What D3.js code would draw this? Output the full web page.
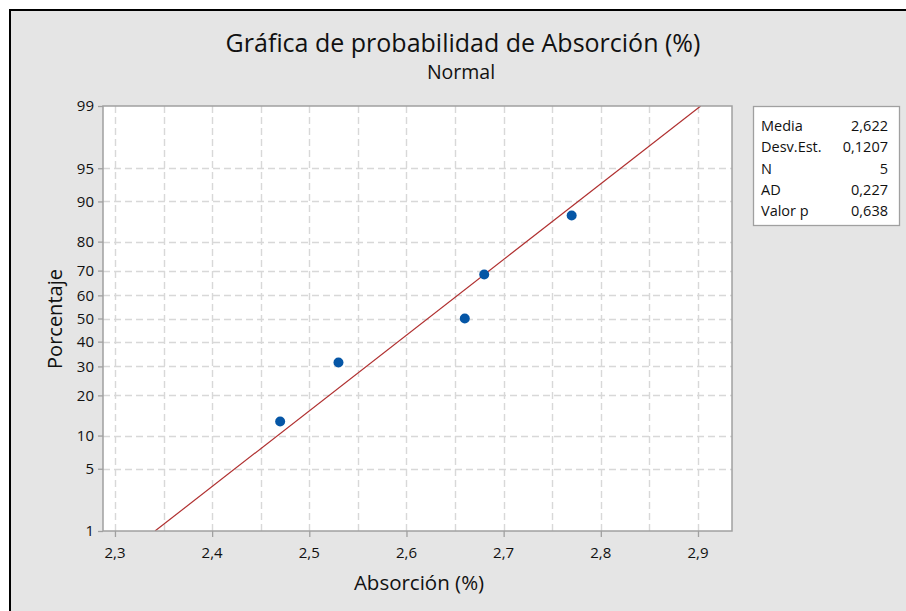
<!DOCTYPE html>
<html><head><meta charset="utf-8">
<script src="https://cdn.jsdelivr.net/npm/d3@7"></script>
<style>body{margin:0;background:#fff}svg{display:block}</style>
</head><body>
<svg id="c" width="906" height="611"></svg>
<script>
const absorcion = [2.47, 2.53, 2.66, 2.68, 2.77];
const porcentajes = [12.96, 31.48, 50, 68.52, 87.04];
const fitMean = 2.622, fitSd = 0.1207;
const xTicks = [2.3, 2.4, 2.5, 2.6, 2.7, 2.8, 2.9];
const xGrid = [2.3, 2.35, 2.4, 2.45, 2.5, 2.55, 2.6, 2.65, 2.7, 2.75, 2.8, 2.85, 2.9];
const yTicks = [1, 5, 10, 20, 30, 40, 50, 60, 70, 80, 90, 95, 99];
const statLabels = ["Media", "Desv.Est.", "N", "AD", "Valor p"];
const statValues = ["2,622", "0,1207", "5", "0,227", "0,638"];

const svg = d3.select("#c");
const F = "'Open Sans', 'Noto Sans', sans-serif";
svg.append("rect").attr("x", 10).attr("y", 10).attr("width", 906).attr("height", 611).attr("fill", "#e5e5e5").attr("stroke", "#000").attr("stroke-width", 2);

const L = 103, R = 732, T = 106, B = 531;
// inverse normal CDF (Acklam)
function probit(p){
  const a=[-39.69683028665376,220.9460984245205,-275.9285104469687,138.3577518672690,-30.66479806614716,2.506628277459239];
  const b=[-54.47609879822406,161.5858368580409,-155.6989798598866,66.80131188771972,-13.28068155288572];
  const c=[-0.007784894002430293,-0.3223964580411365,-2.400758277161838,-2.549732539343734,4.374664141464968,2.938163982698783];
  const d=[0.007784695709041462,0.3224671290700398,2.445134137142996,3.754408661907416];
  const pl=0.02425;
  let q,r;
  if(p<pl){q=Math.sqrt(-2*Math.log(p));return (((((c[0]*q+c[1])*q+c[2])*q+c[3])*q+c[4])*q+c[5])/((((d[0]*q+d[1])*q+d[2])*q+d[3])*q+1);}
  if(p>1-pl){q=Math.sqrt(-2*Math.log(1-p));return -(((((c[0]*q+c[1])*q+c[2])*q+c[3])*q+c[4])*q+c[5])/((((d[0]*q+d[1])*q+d[2])*q+d[3])*q+1);}
  q=p-0.5;r=q*q;
  return (((((a[0]*r+a[1])*r+a[2])*r+a[3])*r+a[4])*r+a[5])*q/(((((b[0]*r+b[1])*r+b[2])*r+b[3])*r+b[4])*r+1);
}
const x = d3.scaleLinear().domain([2.2877, 2.935]).range([L, R]);
const zs = d3.scaleLinear().domain([probit(0.01), probit(0.99)]).range([B, T]);
const y = pct => zs(probit(pct / 100));

svg.append("rect").attr("x", L).attr("y", T).attr("width", R - L).attr("height", B - T).attr("fill", "#fff");

const grid = svg.append("g").attr("stroke", "#d8d8d8").attr("stroke-width", 1.4).attr("stroke-dasharray", "7,4");
grid.selectAll("line.v").data(xGrid).join("line").attr("class","v")
  .attr("x1", d => Math.round(x(d)) + 0.5).attr("x2", d => Math.round(x(d)) + 0.5).attr("y1", T).attr("y2", B);
grid.selectAll("line.h").data(yTicks.filter(d => d > 1 && d < 99)).join("line").attr("class","h")
  .attr("y1", d => Math.round(y(d)) + 0.5).attr("y2", d => Math.round(y(d)) + 0.5).attr("x1", L).attr("x2", R);

// fit line
const fitP = [1, 99];
svg.append("clipPath").attr("id","cp").append("rect").attr("x", L).attr("y", T).attr("width", R-L).attr("height", B-T);
svg.append("line").attr("clip-path","url(#cp)")
  .attr("x1", x(fitMean + probit(0.01) * fitSd)).attr("y1", y(fitP[0]))
  .attr("x2", x(fitMean + probit(0.99) * fitSd)).attr("y2", y(fitP[1]))
  .attr("stroke", "#b03030").attr("stroke-width", 1.2);

svg.append("g").selectAll("circle").data(absorcion).join("circle")
  .attr("cx", d => x(d)).attr("cy", (d, i) => y(porcentajes[i])).attr("r", 5).attr("fill", "#0556a6");

svg.append("rect").attr("x", L).attr("y", T).attr("width", R - L).attr("height", B - T).attr("fill", "none").attr("stroke", "#a0a0a0").attr("stroke-width", 1.5);

// axes (tick marks via d3.axis, labels as own text)
const xa = svg.append("g").attr("transform", `translate(0,${B})`)
  .call(d3.axisBottom(x).tickValues(xTicks).tickSize(6).tickFormat(""));
xa.select(".domain").remove();
xa.selectAll("line").attr("stroke", "#a0a0a0").attr("stroke-width", 1.3);
svg.append("g").selectAll("text").data(xTicks).join("text")
  .attr("x", d => x(d)).attr("y", B + 27).attr("text-anchor", "middle")
  .attr("font-family", F).attr("font-size", 15).attr("fill", "#111")
  .text(d => d3.format(".1f")(d).replace(".", ","));

const ya = svg.append("g").attr("transform", `translate(${L},0)`)
  .call(d3.axisLeft(zs).tickValues(yTicks.map(d => probit(d / 100))).tickSize(5).tickFormat(""));
ya.select(".domain").remove();
ya.selectAll("line").attr("stroke", "#a0a0a0").attr("stroke-width", 1.3);
svg.append("g").selectAll("text").data(yTicks).join("text")
  .attr("x", L - 9).attr("y", d => y(d)).attr("dy", "0.35em").attr("text-anchor", "end")
  .attr("font-family", F).attr("font-size", 15).attr("fill", "#111")
  .text(d => d);

// titles
svg.append("text").attr("x", 463).attr("y", 52).attr("text-anchor", "middle").attr("font-family", F).attr("font-size", 25).attr("fill", "#111").text("Gráfica de probabilidad de Absorción (%)");
svg.append("text").attr("x", 461).attr("y", 79).attr("text-anchor", "middle").attr("font-family", F).attr("font-size", 19.5).attr("fill", "#111").text("Normal");
svg.append("text").attr("x", 419).attr("y", 590).attr("text-anchor", "middle").attr("font-family", F).attr("font-size", 20.5).attr("fill", "#111").text("Absorción (%)");
svg.append("text").attr("transform", "translate(62,319) rotate(-90)").attr("text-anchor", "middle").attr("font-family", F).attr("font-size", 20).attr("fill", "#111").text("Porcentaje");

// stats box
svg.append("rect").attr("x", 753.5).attr("y", 106.5).attr("width", 146).attr("height", 119).attr("fill", "#fff").attr("stroke", "#a0a0a0").attr("stroke-width", 1.3);
const rowY = d3.scalePoint().domain(statLabels).range([131, 216]);
svg.append("g").selectAll("text").data(statLabels).join("text")
  .attr("x", 761).attr("y", d => rowY(d)).attr("font-family", F).attr("font-size", 14.5).attr("fill", "#111").text(d => d);
svg.append("g").selectAll("text").data(statValues).join("text")
  .attr("x", 888).attr("y", (d, i) => rowY(statLabels[i])).attr("text-anchor", "end").attr("font-family", F).attr("font-size", 14.5).attr("fill", "#111").text(d => d);
</script>
</body></html>
